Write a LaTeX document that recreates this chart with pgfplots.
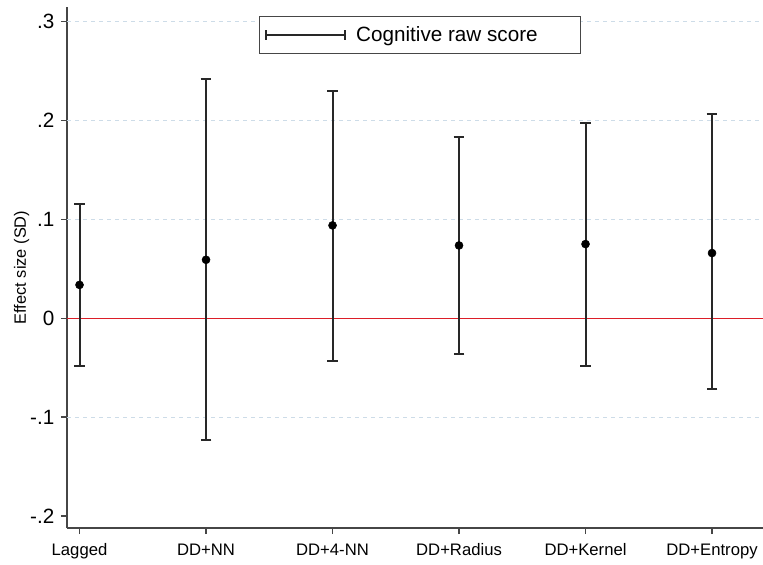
\documentclass[border=0pt]{standalone}
\usepackage{pgfplots}
\pgfplotsset{compat=1.18}
\usepackage{pgfplotstable}
\usepackage{fontspec}
\setmainfont{Liberation Sans}
\definecolor{barcol}{RGB}{40,40,40}
\definecolor{axcol}{RGB}{70,70,70}
\definecolor{gridcol}{RGB}{205,220,232}
\definecolor{zerocol}{RGB}{220,30,40}
\pgfplotstableread{
x y ep em
0 0.0338 0.0819 0.0818
1 0.0592 0.1834 0.1828
2 0.0940 0.1360 0.1370
3 0.0737 0.1101 0.1099
4 0.0751 0.1229 0.1231
5 0.0660 0.1404 0.1375
}\datatab
\begin{document}
\begin{tikzpicture}
\begin{axis}[
  name=ax,
  scale only axis,
  width=522pt, height=390.75pt,
  xmin=-0.099, xmax=5.403,
  ymin=-0.2122, ymax=0.315,
  axis x line*=bottom, axis y line*=left,
  axis line style={axcol, line width=1.2pt, -},
  xtick={0,1,2,3,4,5},
  xticklabels={Lagged,DD+NN,DD+4-NN,DD+Radius,DD+Kernel,DD+Entropy},
  ytick={-0.2,-0.1,0,0.1,0.2,0.3},
  yticklabels={-.2,-.1,0,.1,.2,.3},
  /pgf/number format/assume math mode=true,
  tick style={axcol, line width=1pt},
  major tick length=4.5pt,
  tick align=outside,
  x tick label style={font=\fontsize{12.5}{14}\selectfont, text height=9pt, text depth=2.6pt, yshift=-3.5pt},
  y tick label style={font=\fontsize{15.5}{17}\selectfont, xshift=-1.5pt},
  ylabel={Effect size (SD)},
  every axis y label/.style={at={(rel axis cs:0,0.5)}, xshift=-34pt, rotate=90, anchor=center,
    font=\fontsize{12.3}{14}\selectfont},
  clip=false,
  legend style={at={(0.507,0.983)}, anchor=north, draw=axcol, line width=0.8pt,
    font=\fontsize{15.5}{18}\selectfont, inner xsep=4pt, inner ysep=5.5pt},
  legend cell align=left,
]
\draw[gridcol, line width=0.8pt, dash pattern=on 3pt off 3pt] (axis cs:-0.099,0.3) -- (axis cs:5.403,0.3);
\draw[gridcol, line width=0.8pt, dash pattern=on 3pt off 3pt] (axis cs:-0.099,0.2) -- (axis cs:5.403,0.2);
\draw[gridcol, line width=0.8pt, dash pattern=on 3pt off 3pt] (axis cs:-0.099,0.1) -- (axis cs:5.403,0.1);
\draw[gridcol, line width=0.8pt, dash pattern=on 3pt off 3pt] (axis cs:-0.099,-0.1) -- (axis cs:5.403,-0.1);
\addplot[zerocol, line width=1.1pt, forget plot] coordinates {(-0.099,0) (5.403,0)};
\addplot[only marks, mark=*, mark size=3pt, mark options={fill=black, draw=black},
  legend image code/.code={
    \draw[barcol, line width=1.5pt] (0pt,0pt) -- (59pt,0pt);
    \draw[barcol, line width=1.5pt] (0pt,-3.5pt) -- (0pt,3.5pt);
    \draw[barcol, line width=1.5pt] (59pt,-3.5pt) -- (59pt,3.5pt);
  },
  error bars/.cd, y dir=both, y explicit,
  error bar style={barcol, line width=1.5pt},
  error mark options={barcol, line width=1.5pt, mark size=4pt, rotate=90}]
  table[x=x, y=y, y error plus=ep, y error minus=em] {\datatab};
\addlegendentry{\makebox[168pt][l]{\hspace{6pt}Cognitive raw score}}
\end{axis}
\pgfresetboundingbox
\path ([xshift=-50.25pt, yshift=-27pt]ax.south west) rectangle ([yshift=5.25pt]ax.north east);
\end{tikzpicture}
\end{document}
